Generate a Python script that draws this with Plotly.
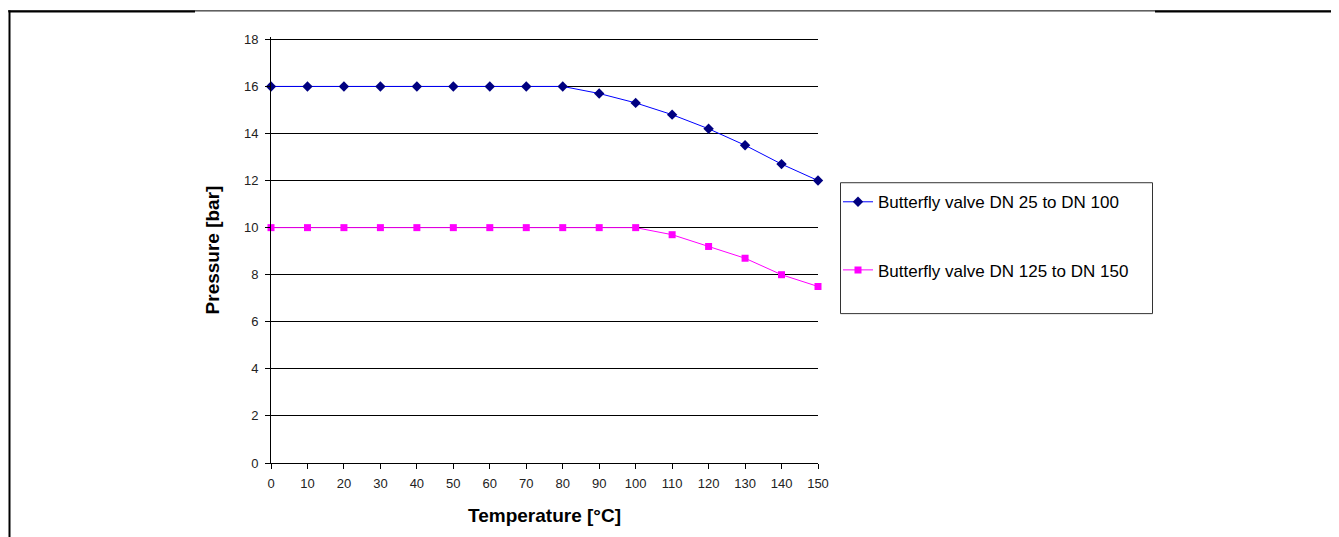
import plotly.graph_objects as go

temperature = [0, 10, 20, 30, 40, 50, 60, 70, 80, 90, 100, 110, 120, 130, 140, 150]
dn25_100 = [16, 16, 16, 16, 16, 16, 16, 16, 16, 15.7, 15.3, 14.8, 14.2, 13.5, 12.7, 12.0]
dn125_150 = [10, 10, 10, 10, 10, 10, 10, 10, 10, 10, 10, 9.7, 9.2, 8.7, 8.0, 7.5]
x_ticks = list(range(0, 151, 10))
y_ticks = list(range(0, 19, 2))

# page offset (browser body margin)
OFF = 8
W, H = 1339 - OFF, 537 - OFF
YMAX = 18.1
unit = (463 - 39) / 18.0
L, R, B = 271 - OFF, 818 - OFF, 463 - OFF
T = B - unit * YMAX

fig = go.Figure()
fig.add_trace(go.Scatter(
    x=temperature, y=dn25_100, mode="lines+markers",
    name="Butterfly valve DN 25 to DN 100", legendgroup="a",
    line=dict(color="#0000FF", width=1),
    marker=dict(symbol="diamond", size=8, color="#000080"),
    cliponaxis=False,
))
fig.add_trace(go.Scatter(
    x=temperature, y=dn125_150, mode="lines+markers",
    name="Butterfly valve DN 125 to DN 150", legendgroup="b",
    line=dict(color="#FF00FF", width=1),
    marker=dict(symbol="square", size=7, color="#FF00FF"),
    cliponaxis=False,
))

pw = R - L
ph = B - T

def px(xp):
    return (xp - OFF - L) / pw

def py(yp):
    return (B - (yp - OFF)) / ph

shapes = [
    # page frame lines
    dict(type="line", xref="paper", yref="paper", x0=px(0), x1=px(1339 + 20), y0=py(10.5), y1=py(10.5),
         line=dict(color="black", width=1)),
    dict(type="line", xref="paper", yref="paper", x0=px(8.5), x1=px(195), y0=py(11), y1=py(11),
         line=dict(color="black", width=2)),
    dict(type="line", xref="paper", yref="paper", x0=px(1155), x1=px(1339 + 20), y0=py(11), y1=py(11),
         line=dict(color="black", width=2)),
    dict(type="line", xref="paper", yref="paper", x0=px(9.5), x1=px(9.5), y0=py(10), y1=py(560),
         line=dict(color="black", width=2)),
    # legend box
    dict(type="rect", xref="paper", yref="paper", x0=px(840.5), x1=px(1152.5), y0=py(182.5), y1=py(313.5),
         line=dict(color="#333333", width=1), fillcolor="rgba(0,0,0,0)"),
]

tickfont = dict(size=13, color="#222222", family="Liberation Sans Narrow, Arial Narrow, Arial, sans-serif")

fig.update_layout(
    width=W, height=H,
    margin=dict(l=L, r=W - R, t=T, b=H - B, pad=0),
    paper_bgcolor="white", plot_bgcolor="white",
    font=dict(family="Arial, Liberation Sans, sans-serif", color="black"),
    shapes=shapes,
    xaxis=dict(
        range=[0, 150], tickvals=x_ticks, ticks="outside", ticklen=5, tickcolor="black",
        showline=True, linecolor="black", linewidth=1, showgrid=False, zeroline=False,
        tickfont=tickfont, ticklabelstandoff=3,
        title=dict(text="<b>Temperature [°C]</b>", font=dict(size=19), standoff=19),
    ),
    yaxis=dict(
        range=[0, YMAX], tickvals=y_ticks, ticks="outside", ticklen=5, tickcolor="black",
        showline=True, linecolor="black", linewidth=1, showgrid=True, gridcolor="black",
        gridwidth=1, zeroline=False,
        tickfont=tickfont, ticklabelstandoff=4,
        title=dict(text="<b>Pressure [bar]</b>", font=dict(size=19), standoff=19),
    ),
    legend=dict(
        x=px(838), y=py(184), xanchor="left", yanchor="top",
        borderwidth=0, bgcolor="rgba(0,0,0,0)",
        font=dict(size=17, color="black"),
        tracegroupgap=43, traceorder="grouped",
        itemwidth=30,
    ),
    showlegend=True,
)

fig.write_html("out.html")
